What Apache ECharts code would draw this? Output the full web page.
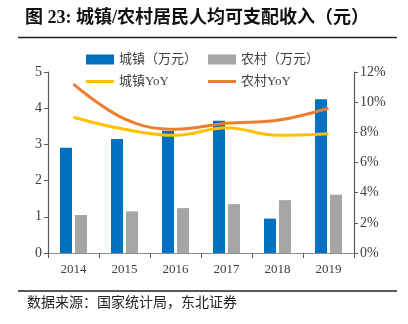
<!DOCTYPE html>
<html><head><meta charset="utf-8">
<script src="https://cdn.jsdelivr.net/npm/echarts@6/dist/echarts.min.js"></script>
<style>html,body{margin:0;padding:0;background:#fff}#c{width:408px;height:324px}</style>
</head><body><div id="c"></div>
<script>
const years = ['2014','2015','2016','2017','2018','2019'];
const urbanIncome = [2.91, 3.15, 3.38, 3.65, 0.95, 4.25];
const ruralIncome = [1.05, 1.15, 1.24, 1.35, 1.46, 1.61];
const urbanYoY = [9.0, 8.2, 7.8, 8.3, 7.8, 7.9];
const ruralYoY = [11.2, 8.9, 8.2, 8.6, 8.8, 9.6];
const leftTicks = {min:0, max:5, interval:1};
const rightTicks = {min:0, max:12, interval:2};

const FONT = '"Liberation Serif","Noto Sans CJK SC",serif';
const chart = echarts.init(document.getElementById('c'), null, {renderer:'canvas'});
const lg = (name, left, top, isLine) => ({
  data:[{name:name, icon:'rect'}], left:left, top:top, padding:0, itemWidth:28, itemHeight:isLine?3:10, itemGap:0,
  textStyle:{fontFamily:FONT, fontSize:13, color:'#404040'}
});
chart.setOption({
  animation:false,
  textStyle:{fontFamily:FONT},
  title:{text:'图 23: 城镇/农村居民人均可支配收入（元）', left:25, top:9, padding:0,
    textStyle:{fontFamily:FONT, fontSize:18, fontWeight:'bold', color:'#111'}},
  graphic:[
    {type:'line', shape:{x1:18,y1:37.5,x2:397,y2:37.5}, style:{stroke:'#222', lineWidth:1.3}},
    {type:'line', shape:{x1:18,y1:291,x2:397,y2:291}, style:{stroke:'#222', lineWidth:1.3}},
    {type:'text', left:27, top:296, style:{text:'数据来源：国家统计局，东北证券', font:'14px '+FONT, fill:'#222'}}
  ],
  legend:[lg('城镇（万元）',86,53,false), lg('农村（万元）',208,53,false), lg('城镇YoY',86,75,true), lg('农村YoY',208,75,true)],
  grid:{left:48, right:54, top:72, bottom:71},
  xAxis:{type:'category', data:years,
    axisLine:{lineStyle:{color:'#8c8c8c', width:1.2}},
    axisTick:{show:true, alignWithLabel:false, length:5, lineStyle:{color:'#595959'}},
    axisLabel:{fontFamily:FONT, fontSize:13, color:'#404040', margin:10}},
  yAxis:[
    {type:'value', min:leftTicks.min, max:leftTicks.max, interval:leftTicks.interval,
     axisLine:{show:true, lineStyle:{color:'#595959', width:1.2}},
     axisTick:{show:true, length:4, lineStyle:{color:'#595959'}},
     splitLine:{show:false},
     axisLabel:{fontFamily:FONT, fontSize:14, color:'#404040', margin:6}},
    {type:'value', min:rightTicks.min, max:rightTicks.max, interval:rightTicks.interval, position:'right',
     axisLine:{show:true, lineStyle:{color:'#595959', width:1.2}},
     axisTick:{show:true, length:4, lineStyle:{color:'#595959'}},
     splitLine:{show:false},
     axisLabel:{fontFamily:FONT, fontSize:14, color:'#404040', margin:6, formatter:'{value}%'}}
  ],
  series:[
    {name:'城镇（万元）', type:'bar', data:urbanIncome, barWidth:12, barGap:'25%',
     itemStyle:{color:'#0070C0'}},
    {name:'农村（万元）', type:'bar', data:ruralIncome, barWidth:12, barGap:'25%',
     itemStyle:{color:'#A5A5A5'}},
    {name:'城镇YoY', type:'line', yAxisIndex:1, data:urbanYoY, smooth:0.4, symbol:'none',
     lineStyle:{color:'#FFC000', width:3}, itemStyle:{color:'#FFC000'}},
    {name:'农村YoY', type:'line', yAxisIndex:1, data:ruralYoY, smooth:0.4, symbol:'none',
     lineStyle:{color:'#ED7D31', width:3}, itemStyle:{color:'#ED7D31'}}
  ]
});
</script></body></html>
